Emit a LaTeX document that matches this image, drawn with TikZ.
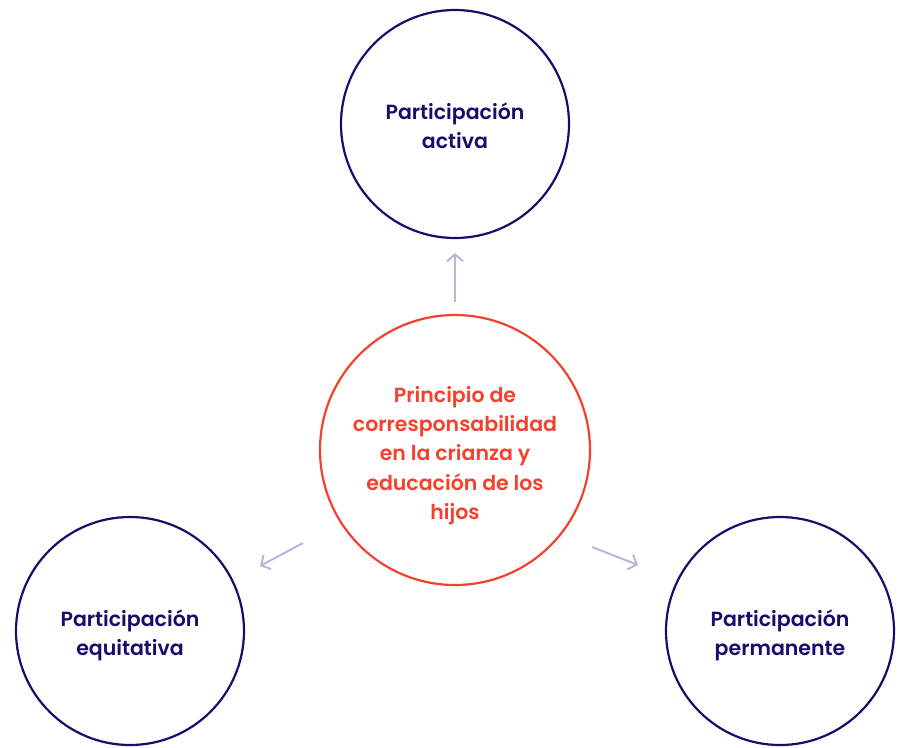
\documentclass[tikz,border=0pt]{standalone}
\usepackage{fontspec}
\setmainfont{Poppins}[UprightFont=* SemiBold]
\usetikzlibrary{arrows.meta}
\definecolor{navy}{HTML}{150F6B}
\definecolor{redc}{HTML}{F4412D}
\definecolor{lav}{HTML}{B9B5DB}
\begin{document}
\begin{tikzpicture}[x=1pt,y=-1pt,
  outer/.style={circle,draw=navy,line width=2.2pt,minimum size=228pt,inner sep=0pt},
  inner/.style={circle,draw=redc,line width=2.2pt,minimum size=270pt,inner sep=0pt},
  otxt/.style={text=navy,font=\fontsize{20.5}{29}\selectfont,align=center,inner sep=0pt},
  itxt/.style={text=redc,font=\fontsize{20.5}{29.3}\selectfont,align=center,inner sep=0pt},
  conn/.style={draw=lav,line width=2pt,-{Straight Barb[length=7pt,width=16pt,line width=2pt]}}]
\useasboundingbox (0,0) rectangle (902,747);
\node[outer] (act) at (455,124) {};
\node[inner] (pri) at (455,450) {};
\node[outer] (equ) at (130,631) {};
\node[outer] (per) at (780,631) {};
\node[otxt] (actt) at ([yshift=-1.5pt]act.center) {Participación\\activa};
\node[itxt] (prit) at ([yshift=-5.5pt]pri.center) {Principio de\\corresponsabilidad\\en la crianza y\\educación de los\\hijos};
\node[otxt] (equt) at ([yshift=-4.5pt]equ.center) {Participación\\equitativa};
\node[otxt] (pert) at ([yshift=-4.5pt]per.center) {Participación\\permanente};
\coordinate (a1) at (455,302);
\coordinate (a2) at (455,253);
\coordinate (b1) at (303,543);
\coordinate (b2) at (260,566);
\coordinate (c1) at (592,547);
\coordinate (c2) at (638,565);
\draw[conn] (a1) -- (a2);
\draw[conn] (b1) -- (b2);
\draw[conn] (c1) -- (c2);
\end{tikzpicture}
\end{document}
